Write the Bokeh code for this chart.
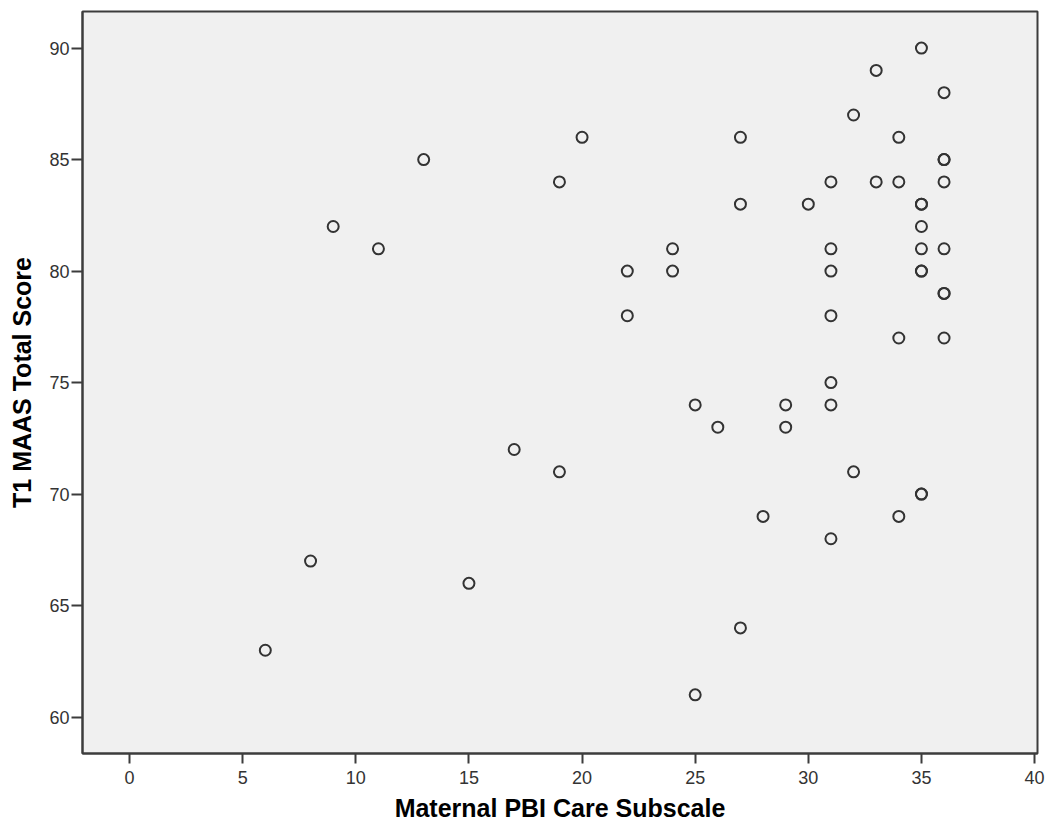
from bokeh.plotting import figure
from bokeh.models import FixedTicker, Range1d
from bokeh.embed import file_html
from bokeh.resources import INLINE

# Data
pbi_care = [6, 8, 9, 11, 13, 15, 17, 19, 19, 20,
            22, 22, 24, 24, 25, 25, 26, 27, 27, 27,
            28, 29, 29, 30, 31, 31, 31, 31, 31, 31,
            31, 32, 32, 33, 33, 34, 34, 34, 34, 35,
            35, 35, 35, 35, 35, 35, 35, 35, 36, 36,
            36, 36, 36, 36, 36, 36]
maas_total = [63, 67, 82, 81, 85, 66, 72, 84, 71, 86,
              80, 78, 81, 80, 74, 61, 73, 86, 83, 64,
              69, 74, 73, 83, 84, 81, 80, 78, 75, 74,
              68, 87, 71, 89, 84, 86, 84, 77, 69, 90,
              83, 83, 82, 81, 80, 80, 70, 70, 88, 85,
              85, 84, 81, 79, 79, 77]

x_ticks = [0, 5, 10, 15, 20, 25, 30, 35, 40]
y_ticks = [60, 65, 70, 75, 80, 85, 90]
x_title = "Maternal PBI Care Subscale"
y_title = "T1 MAAS Total Score"

FONT = "Liberation Sans"
AXIS_COL = "#3c3c3c"

p = figure(width=1045, height=827, output_backend="svg", toolbar_location=None,
           x_range=Range1d(-2.08, 40.13), y_range=Range1d(58.37, 91.64),
           min_border_left=82, min_border_top=11, min_border_right=8,
           min_border_bottom=74)

p.background_fill_color = "#f0f0f0"
p.border_fill_color = "white"
p.outline_line_color = AXIS_COL
p.outline_line_width = 2
p.grid.visible = False

p.scatter(pbi_care, maas_total, marker="circle", size=11, fill_alpha=0,
          line_color="#333333", line_width=2)

for ax, ticks, title in ((p.xaxis[0], x_ticks, x_title), (p.yaxis[0], y_ticks, y_title)):
    ax.ticker = FixedTicker(ticks=ticks)
    ax.minor_tick_line_color = None
    ax.axis_line_color = AXIS_COL
    ax.axis_line_width = 2
    ax.major_tick_line_color = AXIS_COL
    ax.major_tick_line_width = 2
    ax.major_tick_in = 0
    ax.major_label_text_font = FONT
    ax.major_label_text_font_size = "18px"
    ax.major_label_text_color = "#333333"
    ax.axis_label = title
    ax.axis_label_text_font = FONT
    ax.axis_label_text_font_size = "25px"
    ax.axis_label_text_font_style = "bold"
    ax.axis_label_text_color = "#000000"

p.xaxis[0].major_tick_out = 10
p.xaxis[0].major_label_standoff = 7
p.xaxis[0].axis_label_standoff = 7
p.yaxis[0].major_tick_out = 11
p.yaxis[0].major_label_standoff = 2
p.yaxis[0].axis_label_standoff = 10

open("out.html", "w").write(file_html(p, INLINE))
